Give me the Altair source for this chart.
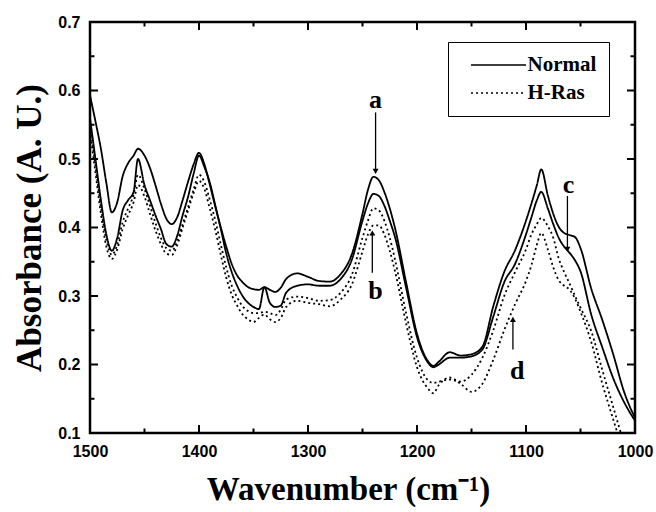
import altair as alt
import pandas as pd

# ---------------- data ----------------
wavenumber = [1500, 1495, 1490, 1485, 1480, 1475, 1470, 1465, 1460, 1456,
              1450, 1445, 1440, 1435, 1430, 1425, 1420, 1415, 1410, 1405,
              1400, 1395, 1390, 1385, 1380, 1375, 1370, 1365, 1360, 1355,
              1350, 1345, 1340, 1335, 1330, 1325, 1320,
              1310, 1300, 1290, 1280, 1270, 1260, 1250,
              1245, 1240, 1235, 1230, 1225, 1220,
              1210, 1200, 1190, 1185, 1180,
              1170, 1160, 1150, 1140, 1130, 1120, 1110, 1100,
              1095, 1090, 1086, 1080, 1075, 1070, 1065, 1060, 1055, 1050,
              1040, 1030, 1020, 1010, 1000]

normal_1 = [0.593, 0.555, 0.515, 0.465, 0.422, 0.437, 0.475, 0.494, 0.505, 0.515,
            0.505, 0.487, 0.462, 0.435, 0.413, 0.405, 0.415, 0.440, 0.467, 0.492,
            0.509, 0.492, 0.462, 0.430, 0.400, 0.372, 0.347, 0.330, 0.320, 0.313,
            0.310, 0.309, 0.313, 0.309, 0.306, 0.312, 0.325,
            0.333, 0.328, 0.322, 0.321, 0.332, 0.360, 0.420,
            0.455, 0.474, 0.469, 0.452, 0.428, 0.398,
            0.320, 0.245, 0.205, 0.198, 0.204,
            0.218, 0.213, 0.215, 0.226, 0.285, 0.335, 0.367, 0.410,
            0.435, 0.462, 0.485, 0.447, 0.420, 0.401, 0.392, 0.389, 0.386, 0.370,
            0.310, 0.265, 0.215, 0.160, 0.122]

normal_2 = [0.560, 0.500, 0.440, 0.390, 0.366, 0.385, 0.425, 0.440, 0.452, 0.500,
            0.462, 0.440, 0.418, 0.398, 0.376, 0.372, 0.388, 0.418, 0.445, 0.478,
            0.505, 0.488, 0.465, 0.432, 0.398, 0.362, 0.335, 0.315, 0.300, 0.290,
            0.284, 0.281, 0.313, 0.290, 0.284, 0.286, 0.305,
            0.315, 0.317, 0.315, 0.315, 0.325, 0.352, 0.410,
            0.435, 0.449, 0.446, 0.432, 0.410, 0.385,
            0.312, 0.240, 0.203, 0.196, 0.200,
            0.210, 0.210, 0.212, 0.222, 0.270, 0.320, 0.347, 0.390,
            0.415, 0.440, 0.452, 0.428, 0.405, 0.385, 0.372, 0.363, 0.352, 0.336,
            0.272, 0.225, 0.180, 0.145, 0.118]

hras_1 = [0.550, 0.490, 0.430, 0.382, 0.360, 0.375, 0.408, 0.428, 0.448, 0.477,
          0.456, 0.432, 0.407, 0.385, 0.370, 0.366, 0.380, 0.405, 0.430, 0.455,
          0.477, 0.466, 0.440, 0.410, 0.375, 0.342, 0.315, 0.298, 0.285, 0.278,
          0.275, 0.275, 0.277, 0.275, 0.272, 0.280, 0.295,
          0.299, 0.297, 0.293, 0.294, 0.305, 0.330, 0.385,
          0.410, 0.428, 0.425, 0.410, 0.385, 0.352,
          0.275, 0.210, 0.177, 0.173, 0.175,
          0.178, 0.175, 0.185, 0.210, 0.250, 0.300, 0.335, 0.368,
          0.390, 0.405, 0.414, 0.402, 0.385, 0.355, 0.335, 0.318, 0.300, 0.283,
          0.248, 0.192, 0.138, 0.085, 0.040]

hras_2 = [0.540, 0.480, 0.420, 0.372, 0.354, 0.368, 0.398, 0.418, 0.437, 0.462,
          0.445, 0.420, 0.396, 0.376, 0.362, 0.360, 0.374, 0.400, 0.425, 0.450,
          0.468, 0.456, 0.427, 0.396, 0.360, 0.327, 0.302, 0.286, 0.273, 0.266,
          0.262, 0.268, 0.273, 0.266, 0.262, 0.268, 0.284,
          0.293, 0.290, 0.288, 0.285, 0.295, 0.316, 0.365,
          0.390, 0.403, 0.403, 0.390, 0.366, 0.335,
          0.260, 0.196, 0.165, 0.158, 0.170,
          0.181, 0.172, 0.160, 0.172, 0.207, 0.250, 0.288, 0.322,
          0.345, 0.375, 0.392, 0.368, 0.342, 0.323, 0.315, 0.309, 0.296, 0.277,
          0.232, 0.172, 0.120, 0.070, 0.030]

groups = ["Normal", "Normal", "H-Ras", "H-Ras"]
curve_ids = ["Normal 1", "Normal 2", "H-Ras 1", "H-Ras 2"]
curve_values = [normal_1, normal_2, hras_1, hras_2]

x_major = [1500, 1400, 1300, 1200, 1100, 1000]
x_minor = [1450, 1350, 1250, 1150, 1050]
y_major = [0.1, 0.2, 0.3, 0.4, 0.5, 0.6, 0.7]
y_minor = [0.15, 0.25, 0.35, 0.45, 0.55, 0.65]

ann_labels = ["a", "b", "c", "d"]
ann_text_wn = [1238, 1238, 1061, 1108]
ann_text_y = [0.586, 0.307, 0.462, 0.190]
arrow_wn = [1238, 1241, 1062, 1112]
arrow_from = [0.568, 0.334, 0.446, 0.222]
arrow_head = [0.482, 0.392, 0.368, 0.266]
arrow_shape = ["triangle-down", "triangle-up", "triangle-down", "triangle-up"]

# ---------------- tables ----------------
rows = []
for g, c, vals in zip(groups, curve_ids, curve_values):
    for w, v in zip(wavenumber, vals):
        rows.append({"wn": w, "absorbance": v, "group": g, "curve": c})
df = pd.DataFrame(rows)

ann_df = pd.DataFrame({"label": ann_labels, "wn": ann_text_wn, "y": ann_text_y})
arrow_df = pd.DataFrame({"wn": arrow_wn, "y1": arrow_from, "y2": arrow_head,
                         "shape": arrow_shape})

# ---------------- chart ----------------
W, H = 545, 411
X_LO, X_HI = 1000, 1500
Y_LO, Y_HI = 0.1, 0.7
SERIF = "Liberation Serif"
SANS = "Liberation Sans"

x_scale = alt.Scale(domain=[X_LO, X_HI], reverse=True, nice=False, zero=False)
y_scale = alt.Scale(domain=[Y_LO, Y_HI], nice=False, zero=False)

x_axis = alt.Axis(orient="bottom", values=x_major, ticks=False, domain=False,
                  grid=False, format="d", labelFont=SANS, labelFontWeight="bold",
                  labelFontSize=16, labelColor="black", labelPadding=10,
                  labelFlush=False, labelOverlap=False,
                  title="Wavenumber (cm⁻¹)", titleFont=SERIF, titleFontSize=33,
                  titleFontWeight="bold", titleColor="black", titlePadding=14,
                  titleX=258, titleAlign="center")
y_axis = alt.Axis(orient="left", values=y_major, ticks=False, domain=False,
                  grid=False, format=".1f", labelFont=SANS, labelFontWeight="bold",
                  labelFontSize=16, labelColor="black", labelPadding=10,
                  labelFlush=False, labelOverlap=False,
                  title="Absorbance (A. U.)", titleFont=SERIF, titleFontSize=35,
                  titleFontWeight="bold", titleColor="black", titlePadding=10)

legend = alt.Legend(orient="none", legendX=358, legendY=20, title=None,
                    strokeColor="black", fillColor="white", padding=12.5,
                    symbolType="M0,0H10", symbolSize=121, symbolStrokeWidth=1.7,
                    symbolStrokeColor="black",
                    labelFont=SERIF, labelFontWeight="bold", labelFontSize=21,
                    labelColor="black", labelOffset=46, rowPadding=6, labelLimit=300)

lines = alt.Chart(df).mark_line(color="black", strokeWidth=1.8, clip=True,
                                interpolate="monotone").encode(
    x=alt.X("wn:Q", scale=x_scale, axis=x_axis),
    y=alt.Y("absorbance:Q", scale=y_scale, axis=y_axis),
    detail="curve:N",
    strokeDash=alt.StrokeDash("group:N",
                              scale=alt.Scale(domain=["Normal", "H-Ras"],
                                              range=[[1, 0], [2, 3]]),
                              legend=legend),
)

# inward-pointing ticks on all four sides; tick length converted to data units
MAJ, MIN = 8, 4.5
DY = (Y_HI - Y_LO) / H   # data units per pixel, y
DX = (X_HI - X_LO) / W   # data units per pixel, x


def x_ticks(vals, length):
    return alt.Chart(pd.DataFrame({"xt": vals})).transform_calculate(
        b0=f"{Y_LO}", b1=f"{Y_LO} + {length * DY}",
        t0=f"{Y_HI} - {length * DY}", t1=f"{Y_HI}",
    ).transform_fold(["b", "t"], as_=["side", "dummy"]).transform_calculate(
        ya="datum.side === 'b' ? datum.b0 : datum.t0",
        yb="datum.side === 'b' ? datum.b1 : datum.t1",
    ).mark_rule(color="black", strokeWidth=2).encode(
        x=alt.X("xt:Q", scale=x_scale, axis=None),
        y=alt.Y("ya:Q", scale=y_scale, axis=None),
        y2="yb:Q",
    )


def y_ticks(vals, length):
    return alt.Chart(pd.DataFrame({"yt": vals})).transform_calculate(
        l0=f"{X_HI}", l1=f"{X_HI} - {length * DX}",
        r0=f"{X_LO} + {length * DX}", r1=f"{X_LO}",
    ).transform_fold(["l", "r"], as_=["side", "dummy"]).transform_calculate(
        xa="datum.side === 'l' ? datum.l0 : datum.r0",
        xb="datum.side === 'l' ? datum.l1 : datum.r1",
    ).mark_rule(color="black", strokeWidth=2).encode(
        y=alt.Y("yt:Q", scale=y_scale, axis=None),
        x=alt.X("xa:Q", scale=x_scale, axis=None),
        x2="xb:Q",
    )


tick_layers = [x_ticks(x_major, MAJ), x_ticks(x_minor, MIN),
               y_ticks(y_major, MAJ), y_ticks(y_minor, MIN)]

shafts = alt.Chart(arrow_df).mark_rule(color="black", strokeWidth=1.3).encode(
    x=alt.X("wn:Q", scale=x_scale, axis=None),
    y=alt.Y("y1:Q", scale=y_scale, axis=None),
    y2="y2:Q",
)

heads = alt.Chart(arrow_df).mark_point(color="black", filled=True, opacity=1,
                                       size=36).encode(
    x=alt.X("wn:Q", scale=x_scale, axis=None),
    y=alt.Y("y2:Q", scale=y_scale, axis=None),
    shape=alt.Shape("shape:N", scale=None, legend=None),
)

texts = alt.Chart(ann_df).mark_text(font=SERIF, fontWeight="bold", fontSize=26,
                                    color="black", baseline="middle",
                                    align="center").encode(
    x=alt.X("wn:Q", scale=x_scale, axis=None),
    y=alt.Y("y:Q", scale=y_scale, axis=None),
    text="label:N",
)

chart = alt.layer(lines, *tick_layers, shafts, heads, texts).resolve_axis(
    x="independent", y="independent"
).properties(
    width=W, height=H,
    padding={"left": 90, "top": 22, "right": 21, "bottom": 79},
    autosize=alt.AutoSizeParams(type="none"),
    background="white",
).configure_view(stroke="black", strokeWidth=2.5)

chart.save("out.html", embed_options={"renderer": "svg", "actions": False})
